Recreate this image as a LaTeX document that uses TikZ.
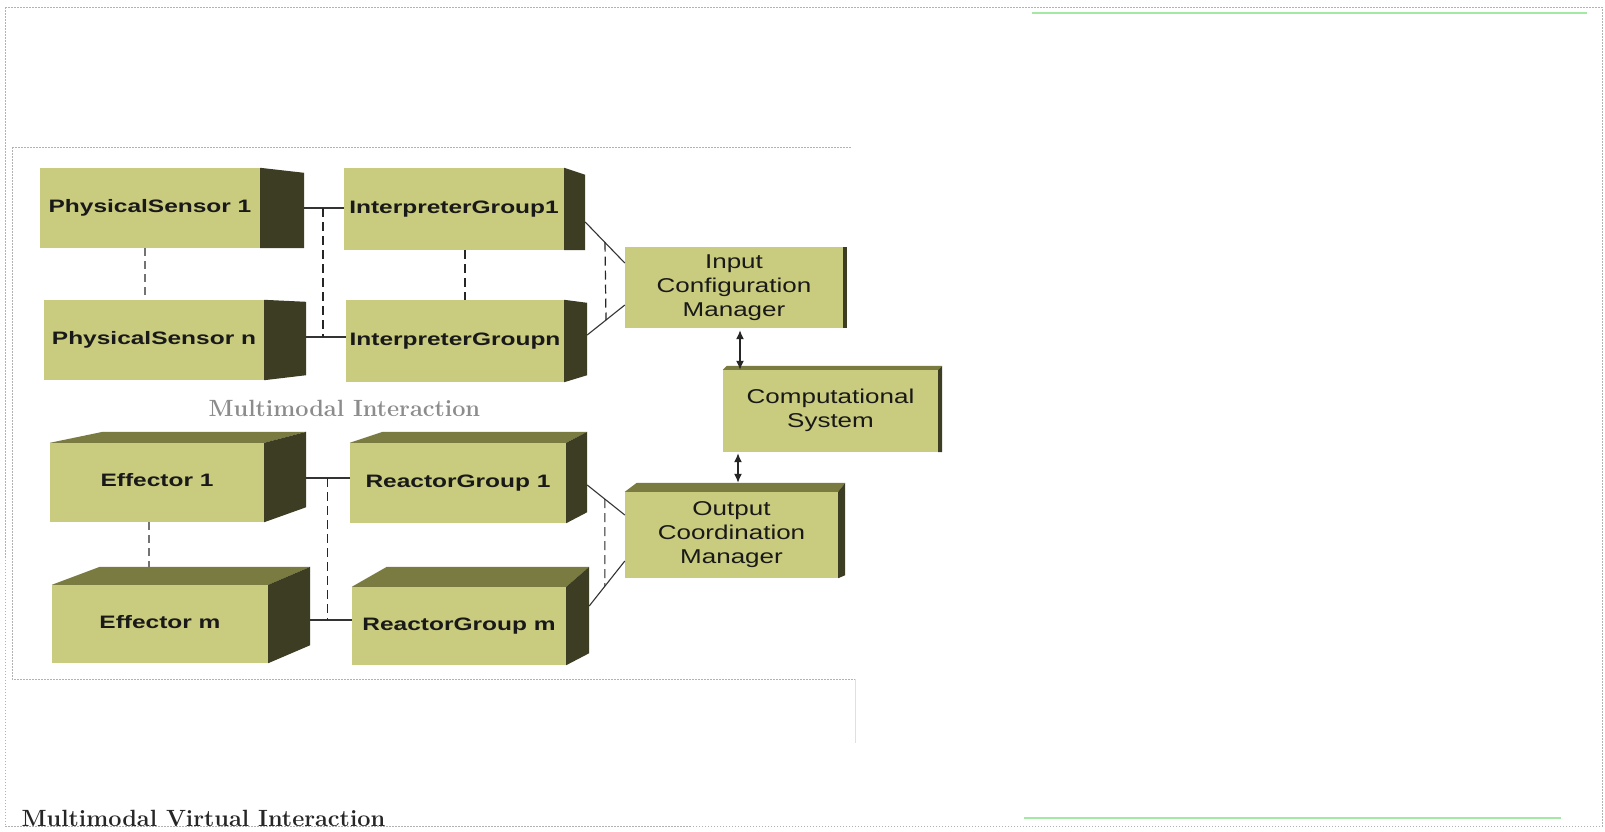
\documentclass[tikz,border=0pt]{standalone}
\usepackage{fontspec}
\setsansfont{Liberation Sans}
\usetikzlibrary{calc,arrows.meta}

\definecolor{facec}{RGB}{201,203,126}
\definecolor{sidec}{RGB}{60,61,34}
\definecolor{topc}{RGB}{122,123,64}
\definecolor{greenc}{RGB}{165,232,165}

% stretched multi-line box text
\newcommand{\wtext}[2]{\scalebox{#1}[1]{\begin{tabular}{@{}c@{}}#2\end{tabular}}}
% dark right face of a box: node, depth, top drop, bottom drop
\newcommand{\sideface}[4]{\fill[sidec] (#1.north east) -- ++(#2,#3) -- ($(#1.south east)+(#2,#4)$) -- (#1.south east) -- cycle;}
% top face of a box: node, left shift, right shift, height
\newcommand{\topface}[4]{\fill[topc] (#1.north west) -- ++(#2,-#4) -- ($(#1.north east)+(#3,-#4)$) -- (#1.north east) -- cycle;}

\tikzset{
  front/.style 2 args={fill=facec, minimum width=#1, minimum height=#2, inner sep=0pt, text=black!90},
  lbox/.style={font=\sffamily\bfseries\fontsize{18}{21}\selectfont},
  rbox/.style={font=\sffamily\fontsize{20}{24}\selectfont},
  conn/.style={draw=black!80, line width=1.1},
  dashc/.style={draw=black!85, line width=1.2, dash pattern=on 9pt off 5pt},
  dashg/.style={draw=black!55, line width=2, dash pattern=on 8pt off 5pt},
  dbl/.style={{Latex[length=9pt,width=8pt]}-{Latex[length=9pt,width=8pt]}, draw=black!85, line width=1.4},
  framedot/.style={draw=black!30, line width=0.8, dash pattern=on 1.5pt off 1.5pt},
  caption/.style={anchor=base west, font=\bfseries\fontsize{23.5}{28}\selectfont}
}

\begin{document}
\begin{tikzpicture}[x=1pt, y=-1pt]
    \fill[white] (0,0) rectangle (1605,831);
    \useasboundingbox (0,0) rectangle (1605,831);

    % page frame
    \draw[framedot] (5,7) -- (1602,7) -- (1602,826) -- (5,826) -- cycle;
    \draw[framedot] (12,147) -- (852,147);
    \draw[framedot] (12,147) -- (12,679) -- (855,679);
    \draw[black!12, line width=0.8] (855,679) -- (855,743);
    \draw[greenc, line width=2.5] (1032,13) -- (1587,13);
    \draw[greenc, line width=2.5] (1024,818) -- (1561,818);

    % input side
    \node[front={220}{80}, lbox] (ps1) at (150,208) {\wtext{1.36}{PhysicalSensor 1}};
    \node[front={220}{80}, lbox] (psn) at (154,340) {\wtext{1.36}{PhysicalSensor n}};
    \node[front={220}{82}, lbox] (ig1) at (454,209) {\wtext{1.36}{InterpreterGroup1}};
    \node[front={218}{82}, lbox] (ign) at (455,341) {\wtext{1.36}{InterpreterGroupn}};
    \sideface{ps1}{44}{5}{0}
    \sideface{psn}{42}{2}{-5}
    \sideface{ig1}{21}{7}{0}
    \sideface{ign}{23}{3}{-7}

    % output side
    \node[front={214}{79}, lbox] (e1) at (157,482.5) {\wtext{1.36}{Effector 1}};
    \node[front={216}{78}, lbox] (em) at (160,624) {\wtext{1.36}{Effector m}};
    \node[front={216}{80}, lbox] (rg1) at (458,483) {\wtext{1.36}{ReactorGroup 1}};
    \node[front={214}{78}, lbox] (rgm) at (459,626) {\wtext{1.36}{ReactorGroup m}};
    \topface{e1}{53}{42}{11}   \sideface{e1}{42}{-11}{-15}
    \topface{em}{48}{42}{18}   \sideface{em}{42}{-18}{-18}
    \topface{rg1}{33}{21}{11}  \sideface{rg1}{21}{-11}{-11}
    \topface{rgm}{35}{23}{20}  \sideface{rgm}{23}{-20}{-12}

    % managers
    \node[front={218}{81}, rbox] (icm) at (734,287.5) {\wtext{1.3}{Input\\Configuration\\Manager}};
    \node[front={215}{82}, rbox] (cs) at (830.5,411) {\raisebox{-5pt}{\wtext{1.3}{Computational\\System}}};
    \node[front={213}{86}, rbox] (ocm) at (731.5,535) {\wtext{1.3}{Output\\Coordination\\Manager}};
    \sideface{icm}{4}{0}{0}
    \topface{cs}{4}{4}{4}      \sideface{cs}{4}{-4}{0}
    \topface{ocm}{12}{7}{9}    \sideface{ocm}{7}{-9}{-3}

    % sensor links
    \coordinate (ps1r) at ($(ps1.east)+(44,0)$);
    \coordinate (psnr) at ($(psn.east)+(42,-3)$);
    \draw[conn] (ps1r) -- (ps1r -| ig1.west);
    \draw[conn] (psnr) -- (psnr -| ign.west);
    \coordinate (sj) at ($(ps1r)!0.475!(ps1r -| ig1.west)$);
    \draw[dashc] (sj) -- (sj |- psnr);
    \draw[dashg] ($(ps1.south)+(-5,0)$) -- ($(psn.north)+(-9,0)$);
    \draw[dashc] ($(ig1.south)+(11,0)$) -- ($(ign.north)+(10,0)$);

    % interpreters to input manager
    \coordinate (ig1r) at ($(ig1.east)+(21,13)$);
    \coordinate (ignr) at ($(ign.east)+(23,-6)$);
    \coordinate (icmt) at ($(icm.west)+(0,-24.5)$);
    \coordinate (icmb) at ($(icm.west)+(0,17.5)$);
    \draw[conn] (ig1r) -- (icmt);
    \draw[conn] (ignr) -- (icmb);
    \draw[dashc] ($(ig1r)!0.5!(icmt)$) -- ($(ignr)!0.5!(icmb)$);

    % effector links
    \coordinate (e1r) at ($(e1.east)+(42,-4.5)$);
    \coordinate (emr) at ($(em.east)+(42,-4)$);
    \draw[conn] (e1r) -- (e1r -| rg1.west);
    \draw[conn] (emr) -- (emr -| rgm.west);
    \coordinate (ej) at ($(e1r)!0.48!(e1r -| rg1.west)$);
    \draw[dashc] (ej) -- (ej |- emr);
    \draw[dashg] ($(e1.south)+(-8,0)$) -- ($(em.north)+(-11,-18)$);

    % reactors to output manager
    \coordinate (rg1r) at ($(rg1.east)+(21,2)$);
    \coordinate (rgmr) at ($(rgm.east)+(23,-20)$);
    \coordinate (ocmt) at ($(ocm.west)+(0,-20)$);
    \coordinate (ocmb) at ($(ocm.west)+(0,26)$);
    \draw[conn] (rg1r) -- (ocmt);
    \draw[conn] (rgmr) -- (ocmb);
    \draw[dashc] ($(rg1r)!0.47!(ocmt)$) -- ($(rgmr)!0.44!(ocmb)$);

    % computational system arrows
    \coordinate (up1) at ($(icm.south)+(6,2)$);
    \coordinate (up2) at ($(cs.south)+(-92.5,1)$);
    \draw[dbl] (up1) -- (up1 |- cs.north);
    \draw[dbl] (up2) -- ($(up2 |- ocm.north)+(0,-9)$);

    % captions
    \node[caption, text=black!45] (mi) at (205,416) {Multimodal Interaction};
    \node[caption, text=black!85] (mvi) at (18,826) {Multimodal Virtual Interaction};
\end{tikzpicture}
\end{document}
